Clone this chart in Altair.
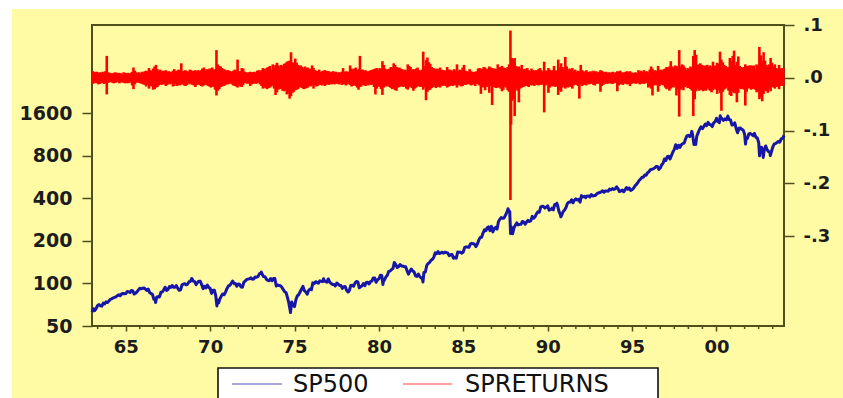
import altair as alt
import pandas as pd

FIRST_YEAR = 1963

# S&P 500 month-end levels, Jan 1963 .. Dec 2003 (12 per row)
SP500 = [
    66.2, 64.3, 66.6, 69.8, 70.8, 69.4, 69.1, 72.5, 71.7, 74.0, 73.2, 75.0,
    77.0, 77.8, 79.0, 79.5, 80.4, 81.7, 83.2, 81.8, 84.2, 84.9, 84.4, 84.8,
    87.6, 87.4, 86.2, 89.1, 88.4, 84.1, 85.3, 87.2, 90.0, 92.4, 91.6, 92.4,
    92.9, 91.2, 89.2, 91.1, 86.1, 84.7, 83.6, 77.1, 76.6, 80.2, 80.5, 80.3,
    86.6, 86.8, 90.2, 94.0, 89.1, 90.6, 94.8, 93.6, 96.7, 93.9, 94.0, 96.5,
    92.2, 89.4, 90.2, 97.6, 98.7, 99.6, 97.7, 98.9, 102.7, 103.4, 108.4, 103.9,
    103.0, 98.1, 101.5, 103.7, 103.5, 97.7, 91.8, 95.5, 93.1, 97.2, 93.8, 92.1,
    85.0, 89.5, 89.6, 81.5, 76.6, 72.7, 78.1, 81.5, 84.2, 83.3, 87.2, 92.2,
    95.9, 96.8, 100.3, 104.0, 99.6, 99.7, 95.6, 99.0, 98.3, 94.2, 94.0, 102.1,
    103.9, 106.6, 107.2, 107.7, 109.5, 107.1, 107.4, 111.1, 110.6, 111.6, 116.7, 118.1,
    116.0, 111.7, 111.5, 107.0, 105.0, 104.3, 108.2, 104.3, 108.4, 108.3, 96.0, 97.6,
    96.6, 96.2, 94.0, 90.3, 87.3, 86.0, 79.3, 72.2, 63.5, 73.9, 70.0, 68.6,
    77.0, 81.6, 83.4, 87.3, 91.2, 95.2, 88.8, 86.9, 83.9, 89.0, 91.2, 90.2,
    100.9, 99.7, 102.8, 101.6, 100.2, 104.3, 103.4, 102.9, 105.2, 102.9, 102.1, 107.5,
    102.0, 99.8, 98.4, 98.4, 96.1, 100.5, 98.9, 96.8, 96.5, 92.3, 94.8, 95.1,
    89.3, 87.0, 89.2, 96.8, 97.2, 95.5, 100.7, 103.3, 102.5, 93.2, 94.7, 96.1,
    99.9, 96.3, 101.6, 101.8, 99.1, 102.9, 103.8, 109.3, 109.3, 101.8, 106.2, 107.9,
    114.2, 113.7, 102.1, 106.3, 111.2, 114.2, 121.7, 122.4, 125.5, 127.5, 140.5, 135.8,
    129.6, 131.3, 136.0, 132.8, 132.6, 131.2, 130.9, 122.8, 116.2, 121.9, 126.4, 122.6,
    120.4, 113.1, 112.0, 116.4, 111.9, 109.6, 107.1, 119.5, 120.4, 133.7, 138.5, 140.6,
    145.3, 148.1, 153.0, 164.4, 162.4, 168.1, 162.6, 164.4, 166.1, 163.6, 166.4, 164.9,
    163.4, 157.1, 159.2, 160.1, 150.6, 153.2, 150.7, 166.7, 166.1, 166.1, 163.6, 167.2,
    179.6, 181.2, 180.7, 179.8, 189.6, 191.9, 190.9, 188.6, 182.1, 189.8, 202.2, 211.3,
    211.8, 226.9, 238.9, 235.5, 247.4, 250.8, 236.1, 252.9, 231.3, 244.0, 249.2, 242.2,
    274.1, 284.2, 291.7, 288.4, 290.1, 304.0, 318.7, 329.8, 321.8, 251.8, 230.3, 247.1,
    257.1, 267.8, 258.9, 261.3, 262.2, 273.5, 272.0, 261.5, 271.9, 279.0, 273.7, 277.7,
    297.5, 288.9, 294.9, 309.6, 320.5, 318.0, 346.1, 351.5, 349.2, 340.4, 346.0, 353.4,
    329.1, 331.9, 339.9, 330.8, 361.2, 358.0, 356.2, 322.6, 306.1, 304.0, 322.2, 330.2,
    343.9, 367.1, 375.2, 375.4, 389.8, 371.2, 387.8, 395.4, 387.9, 392.5, 375.2, 417.1,
    408.8, 412.7, 403.7, 415.0, 415.4, 408.1, 424.2, 414.0, 417.8, 418.7, 431.4, 435.7,
    438.8, 443.4, 451.7, 440.2, 450.2, 450.5, 448.1, 463.6, 458.9, 467.8, 461.8, 466.5,
    481.6, 467.1, 445.8, 450.9, 456.5, 444.3, 458.3, 475.5, 462.7, 472.4, 453.7, 459.3,
    470.4, 487.4, 500.7, 514.7, 533.4, 544.8, 562.1, 561.9, 584.4, 581.5, 605.4, 615.9,
    636.0, 640.4, 645.5, 654.2, 669.1, 670.6, 640.0, 652.0, 687.3, 705.3, 757.0, 740.7,
    786.2, 790.8, 757.1, 801.3, 848.3, 885.1, 954.3, 899.5, 947.3, 914.6, 955.4, 970.4,
    980.3, 1049.3, 1101.8, 1111.8, 1090.8, 1133.8, 1120.7, 957.3, 1017.0, 1098.7, 1163.6, 1229.2,
    1279.6, 1238.3, 1286.4, 1335.2, 1301.8, 1372.7, 1328.7, 1320.4, 1282.7, 1362.9, 1388.9, 1469.3,
    1394.5, 1366.4, 1498.6, 1452.4, 1420.6, 1454.6, 1430.8, 1517.7, 1436.5, 1429.4, 1315.0, 1320.3,
    1366.0, 1239.9, 1160.3, 1249.5, 1255.8, 1224.4, 1211.2, 1133.6, 1040.9, 1059.8, 1139.5, 1148.1,
    1130.2, 1106.7, 1147.4, 1076.9, 1067.1, 989.8, 911.6, 916.1, 815.3, 885.8, 936.3, 879.8,
    855.7, 841.2, 848.2, 916.9, 963.6, 974.5, 990.3, 1008.0, 996.0, 1050.7, 1058.2, 1111.9,
]

# Intra-month turning points of the index (decimal year, level)
SP500_EXTRA_T = [1963.0, 1966.77, 1968.91, 1970.40, 1973.03, 1974.76, 1976.72,
                 1978.19, 1980.24, 1980.91, 1982.61, 1987.65, 1987.80, 1987.92,
                 1990.54, 1990.78, 1998.54, 1998.77, 2000.22, 2000.67, 2001.72,
                 2002.55, 2002.77, 2003.19]
SP500_EXTRA_V = [62.7, 73.2, 108.4, 69.3, 120.2, 62.3, 107.8,
                 86.9, 98.2, 140.5, 102.4, 336.8, 224.8, 223.9,
                 368.9, 295.5, 1186.8, 959.4, 1527.5, 1520.8, 965.8,
                 797.7, 776.8, 800.7]

# Monthly largest daily gain of SPRETURNS, in percent (12 per row, 1963..2003)
RET_MAX_PCT = [
    1.0, 0.9, 0.8, 0.9, 0.7, 0.8, 0.7, 0.9, 0.8, 1.0, 3.9, 0.8,
    0.7, 0.6, 0.6, 0.7, 0.8, 0.7, 0.6, 0.7, 0.6, 0.5, 0.8, 0.7,
    0.6, 0.7, 0.6, 0.7, 0.9, 1.7, 1.1, 0.8, 0.7, 0.8, 0.6, 0.9,
    0.8, 1.0, 1.1, 1.0, 1.6, 1.2, 1.1, 1.5, 1.9, 2.2, 1.4, 1.1,
    1.3, 1.0, 1.1, 1.0, 1.2, 0.9, 1.0, 0.9, 0.8, 1.1, 1.4, 1.0,
    1.1, 1.3, 1.2, 2.5, 1.0, 1.1, 1.2, 1.0, 0.9, 1.3, 1.2, 1.0,
    1.1, 1.2, 1.0, 1.2, 1.0, 1.2, 1.5, 1.7, 1.1, 1.4, 1.2, 1.5,
    1.5, 1.7, 1.3, 1.4, 5.0, 2.3, 2.0, 1.9, 1.6, 1.4, 1.3, 1.1,
    1.2, 1.1, 1.0, 0.9, 1.1, 1.3, 1.2, 3.2, 1.0, 1.0, 1.6, 1.5,
    0.9, 0.8, 0.7, 0.8, 0.9, 0.8, 0.8, 0.9, 0.7, 1.1, 1.2, 0.9,
    1.2, 1.6, 1.4, 1.5, 1.7, 1.8, 2.0, 1.3, 2.3, 1.8, 2.2, 2.6,
    2.1, 1.9, 2.2, 2.0, 2.4, 2.5, 2.8, 2.9, 3.0, 4.6, 2.7, 2.5,
    3.4, 2.6, 2.2, 2.0, 2.1, 1.8, 1.5, 1.9, 1.6, 1.7, 1.4, 1.5,
    2.1, 1.6, 1.2, 1.1, 1.0, 1.3, 0.9, 1.0, 1.1, 1.2, 1.1, 1.0,
    1.0, 0.8, 0.9, 1.0, 0.8, 0.9, 0.7, 0.8, 0.7, 0.9, 1.6, 0.9,
    1.0, 0.9, 0.9, 2.1, 1.5, 1.2, 1.5, 1.7, 1.2, 1.4, 3.9, 1.3,
    1.3, 1.1, 1.2, 0.9, 1.0, 1.1, 1.2, 1.3, 1.4, 1.5, 1.6, 1.2,
    1.6, 1.4, 2.9, 2.2, 1.5, 1.3, 1.4, 1.5, 1.8, 1.7, 2.5, 2.2,
    1.8, 1.6, 1.7, 1.5, 1.4, 1.2, 1.3, 1.1, 2.3, 2.0, 1.8, 1.3,
    1.4, 1.3, 1.5, 1.7, 1.2, 1.1, 1.3, 4.7, 2.0, 3.1, 3.6, 2.7,
    2.4, 1.8, 1.6, 1.5, 1.3, 1.5, 1.4, 1.7, 1.3, 1.2, 1.2, 1.0,
    1.8, 1.3, 1.3, 1.2, 1.0, 1.4, 1.1, 2.3, 1.1, 1.3, 1.2, 1.7,
    2.2, 1.1, 1.0, 0.9, 1.4, 1.0, 0.9, 0.8, 0.9, 1.0, 1.5, 1.6,
    1.5, 1.4, 1.8, 1.7, 1.4, 1.5, 1.9, 1.7, 1.6, 1.5, 1.5, 1.4,
    2.3, 1.7, 1.8, 2.0, 1.7, 1.6, 1.5, 1.8, 2.3, 8.7, 3.5, 3.2,
    3.5, 2.0, 1.8, 1.9, 1.5, 2.2, 1.3, 1.4, 1.5, 1.6, 1.2, 1.0,
    1.5, 1.2, 1.1, 1.2, 1.1, 1.4, 1.6, 1.2, 0.9, 2.8, 1.1, 1.1,
    1.6, 1.3, 1.1, 1.2, 2.0, 1.2, 1.0, 3.2, 1.7, 2.5, 1.8, 1.3,
    3.7, 1.9, 1.3, 1.5, 1.4, 1.6, 1.1, 1.3, 0.9, 1.1, 1.0, 2.2,
    1.2, 1.0, 0.8, 1.2, 0.9, 0.8, 1.0, 0.7, 1.1, 0.9, 1.0, 0.8,
    0.9, 1.2, 1.1, 0.9, 0.8, 0.9, 0.7, 0.8, 0.7, 0.8, 0.9, 0.6,
    0.8, 1.0, 0.9, 1.1, 0.8, 0.7, 0.8, 0.9, 1.0, 0.8, 1.0, 0.8,
    0.6, 0.7, 0.8, 0.6, 1.2, 0.9, 1.1, 0.8, 1.2, 0.9, 1.0, 0.8,
    1.3, 1.9, 1.5, 1.0, 1.2, 1.0, 2.0, 1.2, 1.3, 1.1, 1.4, 1.5,
    1.8, 1.6, 1.9, 2.9, 1.9, 1.7, 2.1, 2.0, 1.8, 5.0, 1.9, 2.3,
    2.1, 1.7, 1.2, 1.6, 1.4, 1.9, 1.6, 3.9, 5.0, 4.1, 2.2, 2.3,
    2.5, 2.2, 2.1, 2.0, 2.1, 2.2, 1.8, 2.1, 1.9, 2.8, 2.0, 2.1,
    2.6, 2.4, 4.7, 3.2, 2.7, 2.2, 2.0, 1.6, 1.8, 3.5, 2.9, 3.9,
    4.9, 2.2, 2.8, 3.8, 2.0, 1.8, 1.6, 1.8, 2.3, 2.0, 2.0, 2.1,
    2.1, 2.0, 2.1, 1.4, 2.3, 2.0, 5.6, 4.0, 2.9, 4.6, 3.0, 2.2,
    1.9, 2.3, 3.5, 2.6, 1.9, 2.3, 1.6, 1.4, 2.2, 1.5, 1.6, 1.6,
]

# Monthly largest daily loss of SPRETURNS, in percent (magnitude)
RET_MIN_PCT = [
    0.9, 0.8, 0.7, 0.8, 1.0, 0.9, 0.8, 0.7, 0.9, 0.8, 2.9, 0.7,
    0.6, 0.5, 0.7, 0.8, 0.7, 0.6, 0.5, 0.8, 0.6, 0.6, 0.7, 0.8,
    0.7, 0.8, 0.7, 0.6, 1.2, 1.9, 1.0, 0.7, 0.6, 0.7, 0.8, 0.9,
    1.0, 1.1, 1.4, 1.0, 1.8, 1.3, 1.4, 2.0, 1.9, 1.6, 1.5, 1.2,
    1.0, 1.1, 0.9, 1.0, 1.3, 1.1, 0.9, 1.0, 0.8, 1.4, 1.3, 0.9,
    1.3, 1.1, 1.2, 1.0, 1.0, 1.2, 1.3, 1.1, 0.8, 1.0, 0.9, 1.1,
    1.2, 1.5, 1.1, 1.0, 1.1, 1.3, 1.4, 1.2, 1.0, 1.1, 1.3, 1.4,
    1.6, 1.4, 1.5, 2.0, 3.1, 2.2, 1.9, 1.5, 1.4, 1.3, 1.2, 1.0,
    1.0, 0.9, 0.8, 1.0, 1.2, 1.3, 1.4, 1.6, 1.0, 1.4, 1.5, 1.1,
    0.8, 0.7, 0.9, 0.8, 1.3, 1.0, 0.9, 0.8, 0.9, 0.8, 0.7, 1.0,
    1.3, 1.8, 1.6, 1.7, 1.9, 1.7, 1.6, 1.4, 1.2, 1.8, 3.0, 2.5,
    2.0, 1.9, 1.8, 2.2, 2.3, 2.1, 2.9, 2.7, 3.7, 3.2, 2.6, 2.4,
    2.1, 2.0, 1.9, 1.6, 1.5, 1.7, 1.9, 1.8, 1.7, 1.6, 1.3, 1.4,
    1.2, 1.8, 1.1, 1.4, 1.3, 1.0, 1.1, 1.2, 1.0, 1.3, 1.1, 0.9,
    1.1, 0.9, 1.0, 0.9, 1.0, 0.8, 0.9, 1.0, 0.8, 1.1, 1.0, 0.9,
    1.2, 1.0, 0.9, 1.1, 1.4, 1.3, 1.1, 1.3, 1.6, 2.0, 1.5, 1.4,
    1.1, 1.2, 1.3, 1.0, 1.2, 0.9, 1.1, 1.0, 1.5, 2.9, 1.8, 1.3,
    1.5, 1.9, 3.0, 1.6, 1.3, 1.4, 1.2, 1.5, 1.7, 1.9, 1.8, 2.1,
    2.2, 1.6, 1.5, 1.3, 1.4, 1.5, 1.3, 1.8, 2.0, 1.6, 1.4, 1.7,
    2.2, 1.8, 1.6, 1.4, 1.3, 1.5, 1.4, 2.0, 1.6, 4.0, 2.4, 2.1,
    2.0, 1.7, 1.5, 1.4, 1.7, 1.5, 1.4, 1.6, 1.2, 1.3, 1.1, 1.3,
    1.6, 1.4, 1.3, 1.2, 1.3, 1.1, 1.2, 1.6, 1.1, 1.2, 1.4, 1.3,
    1.0, 1.1, 1.0, 0.9, 1.0, 1.2, 1.1, 0.9, 1.3, 0.9, 1.0, 1.2,
    2.8, 1.5, 1.6, 2.1, 1.5, 1.4, 2.6, 1.3, 4.9, 1.5, 1.6, 1.7,
    1.6, 1.5, 1.8, 2.3, 2.0, 1.4, 1.6, 2.1, 2.4, 22.9, 4.1, 3.8,
    7.0, 1.8, 2.2, 4.4, 1.8, 1.6, 1.5, 1.4, 1.2, 1.3, 1.5, 1.1,
    1.2, 1.1, 1.3, 1.0, 1.1, 1.2, 1.0, 1.1, 1.0, 6.3, 1.2, 0.9,
    2.6, 1.6, 1.3, 1.4, 1.2, 1.5, 1.3, 3.0, 2.1, 2.4, 1.6, 1.2,
    1.8, 1.5, 1.6, 1.4, 1.5, 1.8, 1.2, 1.0, 1.1, 1.3, 3.7, 1.0,
    1.3, 1.1, 1.0, 1.2, 0.8, 1.0, 0.9, 0.8, 1.1, 1.2, 0.9, 0.8,
    0.9, 2.4, 1.3, 1.1, 0.9, 0.8, 0.9, 0.7, 0.8, 0.9, 0.9, 0.7,
    0.7, 2.3, 1.2, 1.0, 0.9, 1.1, 0.8, 0.9, 1.0, 0.9, 1.3, 0.9,
    0.8, 0.7, 0.9, 0.7, 0.8, 1.0, 0.9, 0.8, 0.9, 0.8, 0.7, 1.6,
    1.4, 1.8, 3.1, 1.2, 1.1, 1.2, 2.4, 1.3, 1.0, 1.1, 1.2, 1.6,
    1.9, 1.6, 2.2, 1.8, 1.5, 1.6, 1.3, 3.1, 1.9, 7.1, 2.0, 1.7,
    2.1, 1.5, 1.3, 1.7, 1.6, 1.9, 2.2, 7.0, 3.8, 2.3, 1.8, 2.2,
    2.1, 2.0, 2.3, 2.1, 2.2, 1.7, 2.0, 2.2, 2.5, 2.1, 1.8, 2.0,
    2.8, 2.1, 2.6, 6.0, 2.4, 2.0, 1.8, 1.4, 2.2, 3.0, 3.2, 2.4,
    2.6, 2.7, 4.4, 2.6, 1.7, 1.9, 1.8, 2.0, 5.0, 2.4, 1.8, 1.7,
    2.0, 1.9, 1.8, 2.0, 2.5, 2.3, 3.8, 3.4, 4.2, 2.8, 2.2, 2.3,
    2.6, 1.8, 2.3, 1.5, 1.6, 1.8, 1.5, 1.4, 1.9, 1.3, 1.2, 1.3,
]

# Extra single-day moves (decimal year, percent)
SPIKE_T = [1987.83]
SPIKE_PCT = [-8.6]

X_TICKS = [1965, 1970, 1975, 1980, 1985, 1990, 1995, 2000]
SP_TICKS = [50, 100, 200, 400, 800, 1600]
RET_TICKS = [0.1, 0.0, -0.1, -0.2, -0.3]
SERIES = ["SP500", "SPRETURNS"]

# ---------------- styling ----------------
YELLOW = "#FFFAA4"
FRAME = "#4f4f1c"
TEXT = "#1c1c1c"
BLUE = "#1616A8"
RED = "#FF0000"
W, H = 692, 301
PAD_L, PAD_T, PAD_R, PAD_B = 92, 25, 59, 72

# ---------------- tables ----------------
sp_t = [FIRST_YEAR + (i + 1) / 12 for i in range(len(SP500))] + SP500_EXTRA_T
sp_v = SP500 + SP500_EXTRA_V
sp_df = pd.DataFrame({"t": sp_t, "v": sp_v})
sp_df["series"] = SERIES[0]
sp_df = sp_df.sort_values("t").reset_index(drop=True)

n = min(len(RET_MAX_PCT), len(RET_MIN_PCT))
ret_df = pd.DataFrame({
    "t": [FIRST_YEAR + (i + 0.5) / 12 for i in range(n)],
    "hi": [v / 100 for v in RET_MAX_PCT[:n]],
    "lo": [-v / 100 for v in RET_MIN_PCT[:n]],
})
spike_df = pd.DataFrame({"t": SPIKE_T, "hi": [0.0] * len(SPIKE_T),
                         "lo": [v / 100 for v in SPIKE_PCT]})
ret_all = pd.concat([ret_df, spike_df], ignore_index=True)
ret_all["series"] = SERIES[1]

minor_ticks = [1965 + k * 5 / 6 for k in range(-3, 50) if k % 6 != 0]
minor_ticks = [v for v in minor_ticks if 1963 < v < 2004]
minor_df = pd.DataFrame({"t": minor_ticks})

xscale = alt.Scale(domain=[1963, 2004], nice=False, zero=False)
xaxis = alt.Axis(values=X_TICKS, labelExpr="substring(toString(datum.value), 2, 4)",
                 title=None, grid=False, tickSize=5, labelPadding=7, domain=False,
                 labelFlush=False)
color = alt.Color("series:N", scale=alt.Scale(domain=SERIES, range=[BLUE, RED]),
                  legend=None)

one = pd.DataFrame({"a": [0]})
strip_top = alt.Chart(one).mark_rect(color="white").encode(
    x=alt.value(-PAD_L), x2=alt.value(W + PAD_R),
    y=alt.value(-PAD_T), y2=alt.value(-PAD_T + 9))
strip_left = alt.Chart(one).mark_rect(color="white").encode(
    x=alt.value(-PAD_L), x2=alt.value(-PAD_L + 12),
    y=alt.value(-PAD_T), y2=alt.value(H + PAD_B))

line = alt.Chart(sp_df).mark_line(strokeWidth=3, strokeJoin="round").encode(
    x=alt.X("t:Q", scale=xscale, axis=xaxis),
    y=alt.Y("v:Q", scale=alt.Scale(type="log", domain=[50, 6700], nice=False),
            axis=alt.Axis(orient="left", values=SP_TICKS, format="d", title=None,
                          grid=False, tickSize=10, labelPadding=10, domain=False,
                          labelFontSize=19)),
    color=color,
)

rules = alt.Chart(ret_all).mark_rule(strokeWidth=2.6, strokeCap="square").encode(
    x=alt.X("t:Q", scale=xscale, axis=xaxis),
    y=alt.Y("hi:Q", scale=alt.Scale(domain=[-0.47, 0.1], nice=False, zero=False),
            axis=alt.Axis(orient="right", values=RET_TICKS,
                          labelExpr="(datum.value < -0.001 ? '-' : '') + '.' + round(abs(datum.value) * 10)",
                          title=None, grid=False, tickSize=10, labelPadding=9,
                          domain=False)),
    y2="lo:Q",
    color=color,
)

minor = alt.Chart(minor_df).mark_rule(color=FRAME, strokeWidth=1.5).encode(
    x=alt.X("t:Q", scale=xscale, axis=xaxis),
    y=alt.value(H), y2=alt.value(H + 3),
)

# ---- legend box (key for the two series) ----
LEG_Y = 359
legend_box = alt.Chart(one).mark_rect(fill="white", stroke="#111111", strokeWidth=1.6).encode(
    x=alt.value(126), x2=alt.value(566), y=alt.value(343), y2=alt.value(395))
leg_blue = alt.Chart(one).mark_rule(color=BLUE, strokeWidth=1.1, opacity=0.75).encode(
    x=alt.value(140), x2=alt.value(190), y=alt.value(LEG_Y))
leg_red = alt.Chart(one).mark_rule(color=RED, strokeWidth=1.1, opacity=0.75).encode(
    x=alt.value(311), x2=alt.value(360), y=alt.value(LEG_Y))
leg_t1 = alt.Chart(one).mark_text(text=SERIES[0], align="left", baseline="middle",
                                  font="DejaVu Sans", fontSize=24, color="#111111").encode(
    x=alt.value(201), y=alt.value(LEG_Y + 1))
leg_t2 = alt.Chart(one).mark_text(text=SERIES[1], align="left", baseline="middle",
                                  font="DejaVu Sans", fontSize=24, color="#111111").encode(
    x=alt.value(373), y=alt.value(LEG_Y + 1))

chart = alt.layer(strip_top, strip_left, line, rules, minor,
                  legend_box, leg_blue, leg_red, leg_t1, leg_t2).resolve_scale(
    y="independent"
).properties(
    width=W, height=H,
    autosize=alt.AutoSizeParams(type="none"),
    padding={"left": PAD_L, "top": PAD_T, "right": PAD_R, "bottom": PAD_B},
).configure(
    background=YELLOW,
).configure_view(
    stroke=FRAME, strokeWidth=2,
).configure_axis(
    labelFont="DejaVu Sans", labelFontSize=18, labelFontWeight="bold",
    labelColor=TEXT, tickColor=FRAME, tickWidth=1.5,
)

chart.save("out.html", embed_options={"renderer": "svg", "actions": False})
